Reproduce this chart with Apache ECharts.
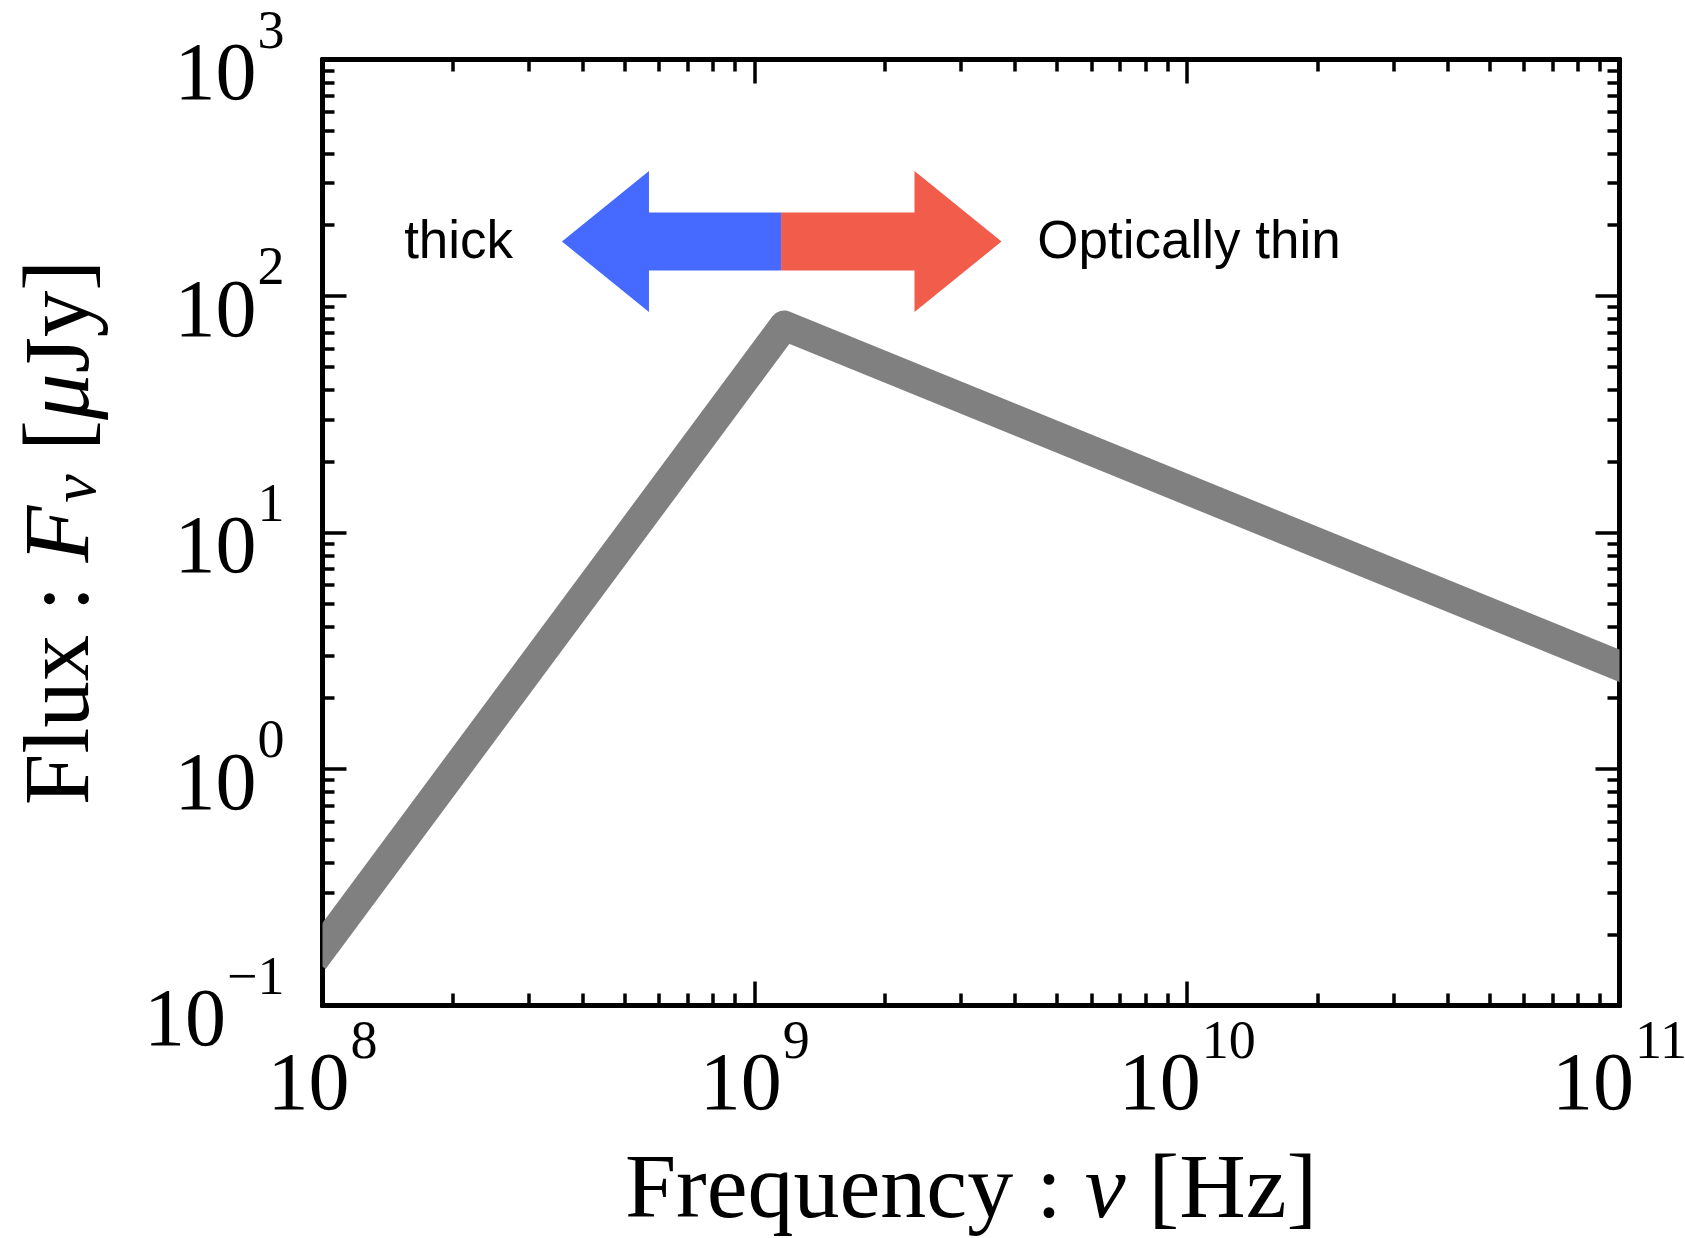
<!DOCTYPE html>
<html>
<head>
<meta charset="utf-8">
<script src="https://cdn.jsdelivr.net/npm/echarts@6/dist/echarts.min.js"></script>
<style>
  html, body { margin: 0; padding: 0; background: #fff; }
  #main { width: 1685px; height: 1238px; }
</style>
</head>
<body>
<div id="main"></div>
<script>
  // broken power law (Hz, μJy)
  const freq = [1e8, 1.17e9, 1e11]
  const flux = [0.175, 75, 2.73]

  // ticks
  const xMajor = [1e8, 1e9, 1e10, 1e11]
  const xMinor = [2e8, 3e8, 4e8, 5e8, 6e8, 7e8, 8e8, 9e8,
    2e9, 3e9, 4e9, 5e9, 6e9, 7e9, 8e9, 9e9,
    2e10, 3e10, 4e10, 5e10, 6e10, 7e10, 8e10, 9e10]
  const yMajor = [0.1, 1, 10, 100, 1000]
  const yMinor = [0.2, 0.3, 0.4, 0.5, 0.6, 0.7, 0.8, 0.9,
    2, 3, 4, 5, 6, 7, 8, 9,
    20, 30, 40, 50, 60, 70, 80, 90,
    200, 300, 400, 500, 600, 700, 800, 900]

  // annotation: double arrow + words
  const arrowY = 170
  const arrowJoin = 1.15e9
  const arrowTip = [3.58e8, 3.72e9]
  const arrowColor = ['#4669ff', '#f25c4b']
  const noteText = ['thick', 'Optically thin']
  const noteX = [2.76e8, 4.5e9]
  const noteAlign = ['right', 'left']

  const SERIF = 'Liberation Serif'
  const SANS = 'Liberation Sans'

  const tickLabel = {
    m: { fontFamily: SERIF, fontSize: 82, lineHeight: 82, color: '#000', verticalAlign: 'top', padding: [30, 0, 0, 0] },
    e: { fontFamily: SERIF, fontSize: 54, lineHeight: 54, color: '#000', verticalAlign: 'top', padding: [0, 0, 0, 1] }
  }
  const fmtPow = v => {
    let p = Math.round(Math.log10(v))
    return '{m|10}{e|' + String(p).replace('-', '\u2212') + '}'
  }

  function axis(kind, position, ticks, len, withLabel) {
    let isX = kind === 'x'
    return {
      type: 'log',
      logBase: 10,
      min: isX ? 1e8 : 0.1,
      max: isX ? 1e11 : 1000,
      position: position,
      axisLine: { show: true, onZero: false, lineStyle: { color: '#000', width: 5 } },
      splitLine: { show: false },
      minorTick: { show: false },
      axisTick: { show: true, inside: true, length: len, customValues: ticks, lineStyle: { color: '#000', width: 3.5 } },
      axisLabel: withLabel ? {
        show: true,
        customValues: ticks,
        margin: isX ? 11 : 38,
        padding: isX ? 0 : [0, 0, 24, 0],
        formatter: fmtPow,
        showMinLabel: true,
        showMaxLabel: true,
        hideOverlap: false,
        rich: tickLabel
      } : { show: false }
    }
  }

  let xAxes = [
    axis('x', 'bottom', xMajor, 24, true),
    axis('x', 'bottom', xMinor, 12, false),
    axis('x', 'top', xMajor, 24, false),
    axis('x', 'top', xMinor, 12, false)
  ]
  let yAxes = [
    axis('y', 'left', yMajor, 24, true),
    axis('y', 'left', yMinor, 12, false),
    axis('y', 'right', yMajor, 24, false),
    axis('y', 'right', yMinor, 12, false)
  ]

  xAxes[0].name = 'Frequency : {i|ν} [Hz]'
  xAxes[0].nameLocation = 'middle'
  xAxes[0].nameGap = 141
  xAxes[0].nameTextStyle = {
    fontFamily: SERIF, fontSize: 92, color: '#000',
    rich: { i: { fontFamily: SERIF, fontSize: 92, fontStyle: 'italic', color: '#000' } }
  }

  yAxes[0].name = 'Flux : {i|F}{s|ν} [{i|μ}Jy]'
  yAxes[0].nameLocation = 'middle'
  yAxes[0].nameGap = 212
  yAxes[0].nameTextStyle = {
    fontFamily: SERIF, fontSize: 93, lineHeight: 93, color: '#000',
    rich: {
      i: { fontFamily: SERIF, fontSize: 93, fontStyle: 'italic', color: '#000' },
      s: { fontFamily: SERIF, fontSize: 64, lineHeight: 64, fontStyle: 'italic', color: '#000', verticalAlign: 'bottom', padding: [40, 0, 0, 3] }
    }
  }

  let option = {
    animation: false,
    backgroundColor: '#fff',
    grid: { left: 322.5, right: 65.5, top: 59.5, bottom: 232.5, containLabel: false, outerBoundsMode: 'none' },
    xAxis: xAxes,
    yAxis: yAxes,
    series: [
      {
        // the spectrum, clipped exactly at the frame
        type: 'custom',
        xAxisIndex: 0,
        yAxisIndex: 0,
        clip: false,
        data: freq.map((f, i) => [f, flux[i]]),
        renderItem: (params, api) => {
          if (params.dataIndex !== 0) return null
          let pts = freq.map((f, i) => api.coord([f, flux[i]]))
          let cs = params.coordSys
          return {
            type: 'polyline',
            shape: { points: pts },
            style: { stroke: '#808080', fill: 'none', lineWidth: 30, lineJoin: 'round', lineCap: 'square' },
            clipPath: { type: 'rect', shape: { x: cs.x, y: cs.y, width: cs.width, height: cs.height } }
          }
        },
        z: 3
      },
      {
        type: 'custom',
        xAxisIndex: 0,
        yAxisIndex: 0,
        data: arrowTip.map(t => [t, arrowY]),
        renderItem: (params, api) => {
          let i = params.dataIndex
          let j = api.coord([arrowJoin, arrowY])
          let t = api.coord([arrowTip[i], arrowY])
          let dir = t[0] > j[0] ? 1 : -1
          let hb = t[0] - dir * 87
          let y = j[1]
          return {
            type: 'polygon',
            shape: {
              points: [
                [j[0], y - 29], [hb, y - 29], [hb, y - 70.5], [t[0], y],
                [hb, y + 70.5], [hb, y + 29], [j[0], y + 29]
              ]
            },
            style: { fill: arrowColor[i] }
          }
        },
        z: 4
      },
      {
        type: 'custom',
        xAxisIndex: 0,
        yAxisIndex: 0,
        data: noteX.map(x => [x, arrowY]),
        renderItem: (params, api) => {
          let i = params.dataIndex
          let p = api.coord([noteX[i], arrowY])
          return {
            type: 'text',
            x: p[0],
            y: p[1] + 2,
            style: {
              text: noteText[i],
              fill: '#000',
              fontFamily: SANS,
              fontSize: 53,
              align: noteAlign[i],
              verticalAlign: 'middle'
            }
          }
        },
        z: 4
      }
    ]
  }

  let myChart = echarts.init(document.getElementById('main'))
  myChart.setOption(option)
</script>
</body>
</html>
